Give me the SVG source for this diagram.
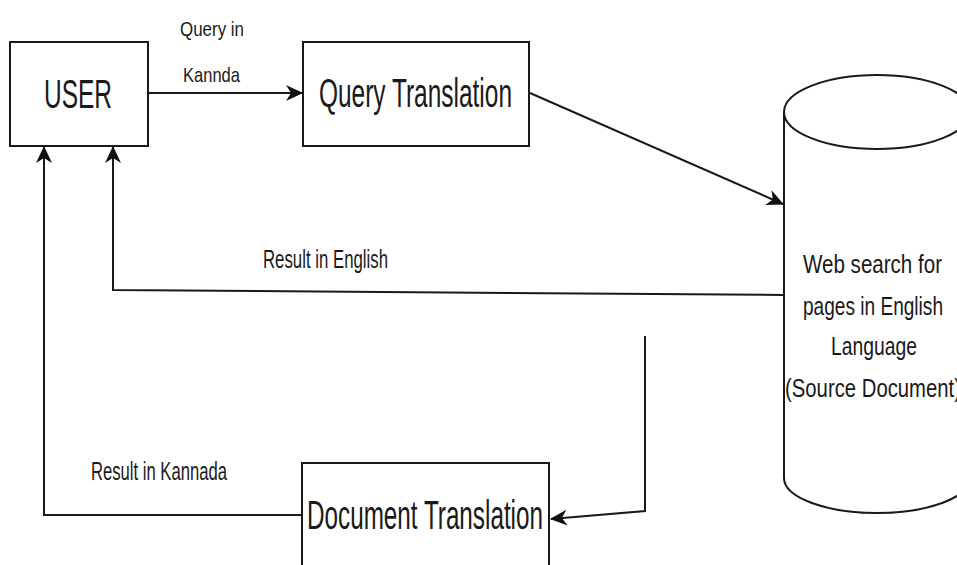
<svg xmlns="http://www.w3.org/2000/svg" width="957" height="565" viewBox="0 0 957 565">
<defs>
<style>
.box{fill:#fff;stroke:#1a1a1a;stroke-width:2}
.ln{fill:none;stroke:#1a1a1a;stroke-width:2}
.t{font-family:"Liberation Sans",Arial,sans-serif;fill:#1a1a1a}
.big{font-size:40px}
.mid{font-size:25px}
.sm{font-size:21px}
</style>
<marker id="arr" markerUnits="userSpaceOnUse" markerWidth="18" markerHeight="18" refX="16" refY="9" orient="auto">
<path d="M0,1 L17,9 L0,17 L5,9 Z" fill="#111"/>
</marker>
</defs>
<rect width="957" height="565" fill="#fff"/>
<g id="connectors">
<line class="ln" x1="148" y1="93" x2="302" y2="93" marker-end="url(#arr)"/>
<line class="ln" x1="530" y1="93" x2="783" y2="204" marker-end="url(#arr)"/>
<polyline class="ln" points="784,295 113,290 113,147" marker-end="url(#arr)"/>
<polyline class="ln" points="645,336 645,511 551,519" marker-end="url(#arr)"/>
<polyline class="ln" points="301,515 44,515 44,147" marker-end="url(#arr)"/>
</g>
<g id="labels">
<text class="t sm" x="180" y="36" textLength="64" lengthAdjust="spacingAndGlyphs">Query in</text>
<text class="t sm" x="183" y="82" textLength="57" lengthAdjust="spacingAndGlyphs">Kannda</text>
<text class="t mid" x="263" y="268" textLength="125" lengthAdjust="spacingAndGlyphs">Result in English</text>
<text class="t mid" x="91" y="480" textLength="136" lengthAdjust="spacingAndGlyphs">Result in Kannada</text>
</g>
<g id="user">
<rect class="box" x="10" y="42" width="138" height="104"/>
<text class="t big" x="44" y="108" textLength="68" lengthAdjust="spacingAndGlyphs">USER</text>
</g>
<g id="query-translation">
<rect class="box" x="303" y="42" width="226" height="104"/>
<text class="t big" x="319" y="107" textLength="193" lengthAdjust="spacingAndGlyphs">Query Translation</text>
</g>
<g id="document-translation">
<rect class="box" x="302" y="463" width="247" height="120"/>
<text class="t big" x="307" y="529" textLength="236" lengthAdjust="spacingAndGlyphs">Document Translation</text>
</g>
<g id="web-search">
<path class="box" d="M784,112 L784,478 A93,35 0 0 0 970,478 L970,112"/>
<ellipse class="box" cx="877" cy="112" rx="93" ry="37"/>
<text class="t mid" x="803" y="273" textLength="139" lengthAdjust="spacingAndGlyphs">Web search for</text>
<text class="t mid" x="803" y="315" textLength="140" lengthAdjust="spacingAndGlyphs">pages in English</text>
<text class="t mid" x="831" y="355" textLength="86" lengthAdjust="spacingAndGlyphs">Language</text>
<text class="t mid" x="785" y="397" textLength="176" lengthAdjust="spacingAndGlyphs">(Source Document)</text>
</g>
</svg>
